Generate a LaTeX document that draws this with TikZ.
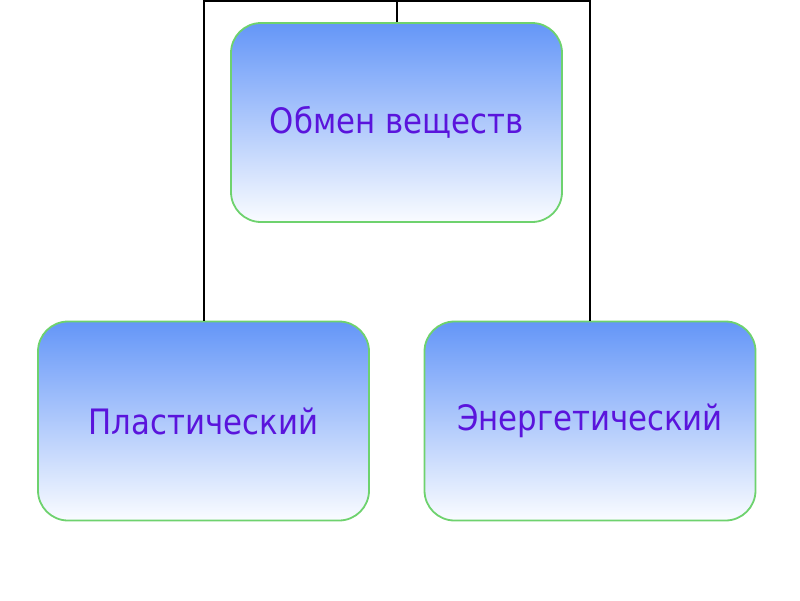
\documentclass[tikz,border=0pt]{standalone}
\usepackage{fontspec}
\setmainfont[FakeStretch=0.88]{DejaVu Sans}
\definecolor{boxtop}{RGB}{100,150,248}
\definecolor{boxbot}{RGB}{250,252,255}
\definecolor{boxedge}{RGB}{110,210,110}
\definecolor{txt}{RGB}{90,20,220}
\tikzset{
  topic/.style={rectangle, rounded corners=30pt, draw=boxedge, line width=1.8pt,
    top color=boxtop, bottom color=boxbot, minimum width=331pt, minimum height=199pt,
    text=txt, font=\fontsize{35}{40}\selectfont, inner sep=0pt},
  link/.style={draw=black, line width=2pt}
}
\begin{document}
\begin{tikzpicture}[x=1pt,y=-1pt]
\useasboundingbox (0,0) rectangle (800,600);
\coordinate (hub) at (397,0.5);
\node[topic] (top) at (396.5,122.5) {Обмен веществ};
\node[topic] (left) at (203.5,421) {Пластический};
\node[topic] (right) at (590,421) {Энергетический};
\draw[link] (left.north) |- (hub) -| (right.north);
\draw[link] (top.north) -- (top.north |- hub);
\end{tikzpicture}
\end{document}
